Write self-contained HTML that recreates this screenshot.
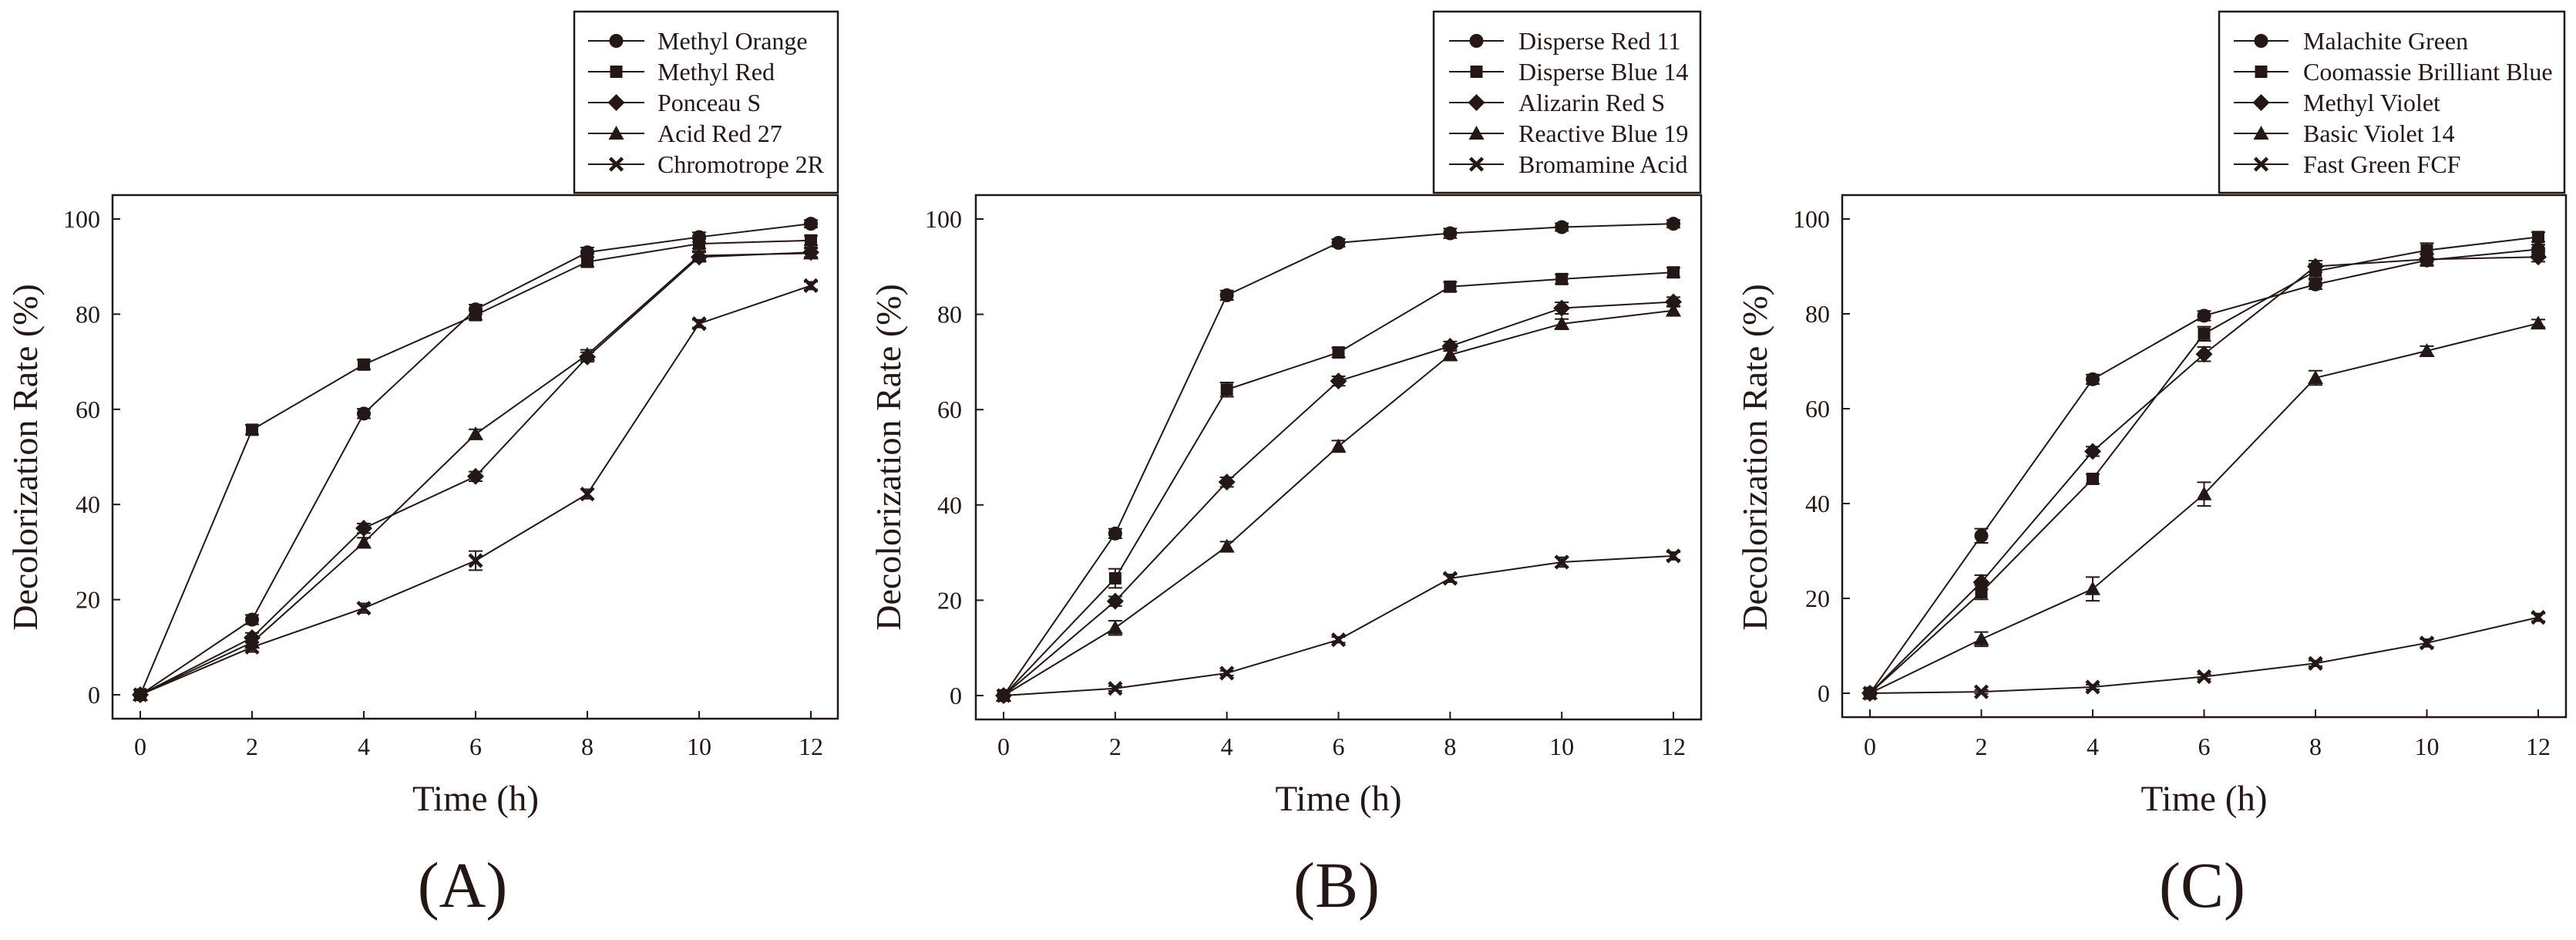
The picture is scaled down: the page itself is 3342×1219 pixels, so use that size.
<!DOCTYPE html>
<html><head><meta charset="utf-8"><style>
html,body{margin:0;padding:0;background:#fff;}
svg{display:block;}
svg text{font-family:"Liberation Serif","Times New Roman","DejaVu Serif",serif;}
</style></head><body>
<svg id="fig" width="3342" height="1219" viewBox="0 0 3342 1219" xmlns="http://www.w3.org/2000/svg" font-family="Liberation Serif, DejaVu Serif, serif"></svg>
<script>
const times = [0, 2, 4, 6, 8, 10, 12];
const xTicks = [0, 2, 4, 6, 8, 10, 12];
const yTicks = [0, 20, 40, 60, 80, 100];
const markers = ['circle', 'square', 'diamond', 'triangle', 'cross'];

const namesA = ['Methyl Orange', 'Methyl Red', 'Ponceau S', 'Acid Red 27', 'Chromotrope 2R'];
const a_methylOrange = [0, 15.8, 59.1, 81, 93, 96.2, 99];
const a_methylRed = [0, 55.7, 69.4, 79.8, 91, 94.8, 95.5];
const a_ponceauS = [0, 12, 35, 45.9, 71, 92, 93];
const a_acidRed27 = [0, 11, 32, 54.8, 71.5, 92.3, 92.8];
const a_chromotrope = [0, 10, 18.2, 28.2, 42.2, 78, 86];
const a_err = [[0,1,1,1,1,1,0.8],[0,1,1,1,1,1,1],[0,1,1,1,1,1,1],[0,1,1,1,1,1,1],[0,1,1,2,1,0.8,0.8]];

const namesB = ['Disperse Red 11', 'Disperse Blue 14', 'Alizarin Red S', 'Reactive Blue 19', 'Bromamine Acid'];
const b_disperseRed11 = [0, 34, 84, 95, 97, 98.3, 99];
const b_disperseBlue14 = [0, 24.6, 64.2, 72, 85.8, 87.4, 88.8];
const b_alizarinRedS = [0, 19.8, 44.8, 66, 73.3, 81.3, 82.6];
const b_reactiveBlue19 = [0, 14.2, 31.3, 52.3, 71.5, 78, 80.8];
const b_bromamineAcid = [0, 1.5, 4.7, 11.7, 24.6, 28, 29.3];
const b_err = [[0,1,1,0.8,1,0.8,0.8],[0,2,1.5,1,1,1,1],[0,1,1,1,1,1.2,1],[0,1.5,1,1.2,1.2,1,1],[0,0.5,0.5,0.6,0.8,1,0.8]];

const namesC = ['Malachite Green', 'Coomassie Brilliant Blue', 'Methyl Violet', 'Basic Violet 14', 'Fast Green FCF'];
const c_malachite = [0, 33.2, 66.2, 79.6, 86.2, 91.3, 93.6];
const c_coomassie = [0, 21.3, 45.2, 75.8, 89, 93.4, 96.2];
const c_methylViolet = [0, 23.4, 51, 71.5, 90, 91.5, 92];
const c_basicViolet14 = [0, 11.4, 22, 42, 66.5, 72.2, 78];
const c_fastGreen = [0, 0.3, 1.3, 3.5, 6.3, 10.6, 16];
const c_err = [[0,1.5,1,1,1,1.2,1],[0,1.5,1,1.5,1.5,1.5,1],[0,1.5,1,1.5,1.2,1.2,1],[0,1.5,2.5,2.5,1.5,1,0.8],[0,0.4,0.5,0.5,0.6,0.8,0.8]];

const C = '#231815';
const FONT = 'Liberation Serif, DejaVu Serif, serif';
const NS = 'http://www.w3.org/2000/svg';
const svg = document.getElementById('fig');

function mk(tag, attrs, parent) {
  const el = document.createElementNS(NS, tag);
  for (const k in attrs) el.setAttribute(k, attrs[k]);
  if (tag === 'text') el.setAttribute('font-family', FONT);
  (parent || svg).appendChild(el);
  return el;
}

function drawMarker(g, type, cx, cy) {
  let el;
  if (type === 'circle') el = mk('circle', {cx: cx, cy: cy, r: 9, fill: C}, g);
  else if (type === 'square') el = mk('rect', {x: cx - 8, y: cy - 8, width: 16, height: 16, fill: C}, g);
  else if (type === 'diamond') el = mk('polygon', {points: `${cx},${cy-11} ${cx+11},${cy} ${cx},${cy+11} ${cx-11},${cy}`, fill: C}, g);
  else if (type === 'triangle') el = mk('polygon', {points: `${cx},${cy-10} ${cx+10},${cy+8} ${cx-10},${cy+8}`, fill: C}, g);
  else el = mk('path', {d: `M${cx-8},${cy-8}L${cx+8},${cy+8}M${cx+8},${cy-8}L${cx-8},${cy+8}`, stroke: C, 'stroke-width': 4.5, fill: 'none'}, g);
  return el;
}

function drawPanel(p) {
  const g = mk('g', {});
  
  
  const xs = v => p.x0 + (v / 12) * (p.x12 - p.x0);
  const ys = v => p.y0 - (v / 100) * (p.y0 - p.y100);
  const frame = mk('rect', {x: p.left, y: 253, width: p.right - p.left, height: p.bottom - 253, fill: 'none', stroke: C, 'stroke-width': 2.5}, g);
  
  
  yTicks.forEach(t => {
    const y = ys(t);
    mk('line', {x1: p.left, x2: p.left + 10, y1: y, y2: y, stroke: C, 'stroke-width': 2}, g);
    const tx = mk('text', {x: p.ylab, y: y + 11, 'text-anchor': 'end', 'font-size': 32, fill: C}, g);
    tx.textContent = t;
    
    
  });
  xTicks.forEach(t => {
    const x = xs(t);
    mk('line', {x1: x, x2: x, y1: p.bottom, y2: p.bottom - 10, stroke: C, 'stroke-width': 2}, g);
    const tx = mk('text', {x: x, y: 979, 'text-anchor': 'middle', 'font-size': 32, fill: C}, g);
    tx.textContent = t;
    
    
  });
  const xt = mk('text', {x: (p.x0 + p.x12) / 2, y: 1051, 'text-anchor': 'middle', 'font-size': 47, fill: C}, g);
  xt.textContent = 'Time (h)';
  
  
  const yt = mk('text', {x: 0, y: 0, 'text-anchor': 'middle', 'font-size': 46, fill: C, transform: `translate(${p.ytx},593) rotate(-90)`}, g);
  yt.textContent = 'Decolorization Rate (%)';
  
  
  const lab = mk('text', {x: p.labx, y: 1176, 'text-anchor': 'middle', 'font-size': 84, fill: C}, g);
  lab.textContent = '(' + p.letter + ')';
  
  
  p.series.forEach((vals, si) => {
    const sg = mk('g', {}, g);
    
    
    const pts = vals.map((v, i) => xs(times[i]) + ',' + ys(v)).join(' ');
    mk('polyline', {points: pts, fill: 'none', stroke: C, 'stroke-width': 2}, sg);
    vals.forEach((v, i) => {
      const e = p.err[si][i];
      const cx = xs(times[i]);
      if (e > 0) {
        const y1 = ys(v + e), y2 = ys(v - e);
        mk('path', {d: `M${cx},${y1}V${y2}M${cx-9},${y1}H${cx+9}M${cx-9},${y2}H${cx+9}`, stroke: C, 'stroke-width': 2, fill: 'none'}, sg);
      }
      const m = drawMarker(sg, markers[si], cx, ys(v));
      
      
    });
  });
  const lg = mk('g', {}, g);
  
  
  mk('rect', {x: p.lgL, y: 15, width: p.lgR - p.lgL, height: 235, fill: '#fff', stroke: C, 'stroke-width': 2.5}, lg);
  const rows = [53, 93, 133, 173, 213];
  p.names.forEach((n, i) => {
    const eg = mk('g', {}, lg);
    
    
    mk('line', {x1: p.lnA, x2: p.lnB, y1: rows[i], y2: rows[i], stroke: C, 'stroke-width': 2}, eg);
    drawMarker(eg, markers[i], (p.lnA + p.lnB) / 2, rows[i]);
    const t = mk('text', {x: p.txt, y: rows[i] + 11, 'font-size': 32, fill: C}, eg);
    t.textContent = n;
  });
}

drawPanel({id: 'panel-a', letter: 'A', left: 146, right: 1087, bottom: 932, x0: 182, x12: 1052, y0: 901, y100: 284,
  ylab: 130, ytx: 48, labx: 600, lgL: 745, lgR: 1087, lnA: 763, lnB: 836, txt: 853,
  names: namesA, series: [a_methylOrange, a_methylRed, a_ponceauS, a_acidRed27, a_chromotrope], err: a_err});
drawPanel({id: 'panel-b', letter: 'B', left: 1266, right: 2207, bottom: 933, x0: 1302, x12: 2171, y0: 902, y100: 284,
  ylab: 1248, ytx: 1168, labx: 1734, lgL: 1860, lgR: 2206, lnA: 1880, lnB: 1951, txt: 1970,
  names: namesB, series: [b_disperseRed11, b_disperseBlue14, b_alizarinRedS, b_reactiveBlue19, b_bromamineAcid], err: b_err});
drawPanel({id: 'panel-c', letter: 'C', left: 2390, right: 3329, bottom: 930, x0: 2426, x12: 3293, y0: 899, y100: 284,
  ylab: 2374, ytx: 2292, labx: 2857, lgL: 2879, lgR: 3327, lnA: 2898, lnB: 2969, txt: 2988,
  names: namesC, series: [c_malachite, c_coomassie, c_methylViolet, c_basicViolet14, c_fastGreen], err: c_err});
</script>
</body></html>
